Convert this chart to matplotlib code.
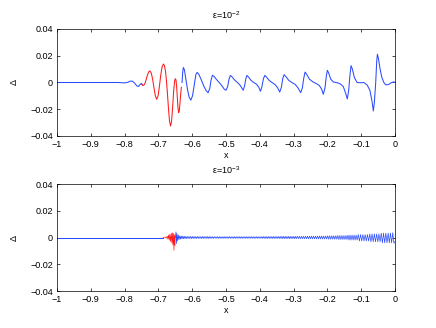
import matplotlib
matplotlib.use("Agg")
import matplotlib.pyplot as plt

plt.rcParams['font.family'] = ['Liberation Sans', 'DejaVu Sans']
plt.rcParams['mathtext.fontset'] = 'custom'
plt.rcParams['mathtext.rm'] = 'Liberation Sans'
plt.rcParams['mathtext.it'] = 'Liberation Sans:italic'

# ---- data ----
xticks = [-1, -0.9, -0.8, -0.7, -0.6, -0.5, -0.4, -0.3, -0.2, -0.1, 0]
xtick_labels = ['\u22121', '\u22120.9', '\u22120.8', '\u22120.7', '\u22120.6', '\u22120.5',
                '\u22120.4', '\u22120.3', '\u22120.2', '\u22120.1', '0']
yticks = [-0.04, -0.02, 0, 0.02, 0.04]
ytick_labels = ['\u22120.04', '\u22120.02', '0', '0.02', '0.04']
titles = ['\u03b5=10$^{-2}$', '\u03b5=10$^{-3}$']

# eps = 1e-2
top_blue1_x = [-1.0, -0.90, -0.85, -0.82, -0.80, -0.790, -0.783, -0.777, -0.770, -0.764,
               -0.759, -0.755, -0.751, -0.748]
top_blue1_y = [0.0, 0.0, 0.0, 0.0, -0.0003, 0.0002, 0.0010, 0.0010, -0.0005, -0.0025,
               -0.0030, -0.0018, -0.0008, -0.0014]

top_red_x = [-0.750, -0.746, -0.741, -0.737, -0.733, -0.729, -0.725, -0.721, -0.717, -0.713,
             -0.709, -0.705, -0.701, -0.697, -0.693, -0.689, -0.685, -0.682, -0.679, -0.676,
             -0.673, -0.670, -0.667, -0.664, -0.661, -0.658, -0.655, -0.652, -0.650, -0.648,
             -0.646, -0.644, -0.642, -0.640, -0.638, -0.636, -0.634, -0.632]
top_red_y = [-0.0010, -0.0024, -0.0015, 0.0015, 0.0050, 0.0078, 0.0087, 0.0070, 0.0025, -0.0040,
             -0.0100, -0.0126, -0.0100, -0.0030, 0.0055, 0.0118, 0.0138, 0.0125, 0.0085, 0.0010,
             -0.0090, -0.0200, -0.0290, -0.0325, -0.0290, -0.0190, -0.0070, 0.0010, 0.0028, 0.0020,
             -0.0030, -0.0110, -0.0190, -0.0226, -0.0210, -0.0150, -0.0085, -0.0036]

top_blue2_x = [-0.630, -0.628, -0.626, -0.623, -0.619, -0.614, -0.609, -0.604, -0.599, -0.594,
               -0.589, -0.585, -0.580, -0.573, -0.566, -0.559, -0.553, -0.548, -0.544, -0.540,
               -0.535, -0.528, -0.520, -0.512, -0.505, -0.500, -0.495, -0.491, -0.487, -0.482,
               -0.475, -0.467, -0.459, -0.453, -0.449, -0.445, -0.441, -0.438, -0.433, -0.426,
               -0.418, -0.410, -0.403, -0.398, -0.394, -0.389, -0.385, -0.380, -0.372, -0.364,
               -0.355, -0.347, -0.341, -0.336, -0.332, -0.328, -0.322, -0.314, -0.305, -0.295,
               -0.287, -0.279, -0.274, -0.270, -0.266, -0.261, -0.253, -0.243, -0.233, -0.224,
               -0.217, -0.212, -0.207, -0.203, -0.200, -0.196, -0.190, -0.182, -0.172, -0.162,
               -0.153, -0.146, -0.141, -0.137, -0.133, -0.130, -0.126, -0.120, -0.112, -0.102,
               -0.092, -0.082, -0.074, -0.068, -0.064, -0.061, -0.057, -0.054, -0.052, -0.049,
               -0.044, -0.039, -0.033, -0.027, -0.019, -0.011, -0.005, 0.0]
top_blue2_y = [0.0000, 0.0080, 0.0112, 0.0095, 0.0030, -0.0050, -0.0110, -0.0132, -0.0100, -0.0020,
               0.0060, 0.0076, 0.0060, 0.0020, -0.0025, -0.0060, -0.0076, -0.0045, 0.0020, 0.0054,
               0.0045, 0.0022, 0.0000, -0.0025, -0.0050, -0.0058, -0.0030, 0.0025, 0.0053, 0.0042,
               0.0020, 0.0002, -0.0018, -0.0042, -0.0058, -0.0025, 0.0030, 0.0053, 0.0040, 0.0016,
               0.0000, -0.0012, -0.0035, -0.0066, -0.0035, 0.0030, 0.0053, 0.0040, 0.0015, 0.0000,
               -0.0015, -0.0040, -0.0072, -0.0035, 0.0030, 0.0058, 0.0042, 0.0015, 0.0000, -0.0015,
               -0.0040, -0.0076, -0.0040, 0.0030, 0.0078, 0.0060, 0.0025, 0.0005, -0.0008, -0.0022,
               -0.0050, -0.0088, -0.0040, 0.0050, 0.0091, 0.0070, 0.0025, 0.0003, -0.0001, -0.0010,
               -0.0030, -0.0080, -0.0123, -0.0060, 0.0060, 0.0126, 0.0100, 0.0036, 0.0000, -0.0002,
               0.0000, -0.0020, -0.0060, -0.0140, -0.0213, -0.0150, 0.0000, 0.0160, 0.0211, 0.0180,
               0.0100, 0.0040, 0.0000, -0.0018, -0.0015, -0.0002, 0.0004, 0.0002]

# eps = 1e-3
bot_blue1_x = [-1.0, -0.686]
bot_blue1_y = [0.0, 0.0]

bot_red_x = [-0.686, -0.680, -0.677, -0.674, -0.672, -0.670, -0.668, -0.666, -0.664, -0.662,
             -0.660, -0.6585, -0.657, -0.6555, -0.654, -0.6525, -0.651, -0.650]
bot_red_y = [0.0, 0.0003, -0.0005, 0.0010, -0.0012, 0.0018, -0.0020, 0.0025, -0.0030, 0.0032,
             -0.0040, 0.0035, -0.0055, 0.0030, -0.0095, 0.0020, -0.0060, 0.0010]

bot_blue2_x = [-0.6495, -0.6480, -0.6465, -0.6450, -0.6430, -0.6410, -0.6390, -0.6368, -0.6346, -0.6324,
               -0.6302, -0.6280, -0.6258, -0.6236, -0.6214, -0.6192, -0.6170,
               -0.6145, -0.6120, -0.6095, -0.6070, -0.6045, -0.6020, -0.5995, -0.5970, -0.5945, -0.5920,
               -0.5895, -0.5870, -0.5845, -0.5820, -0.5795, -0.5770, -0.5745, -0.5720, -0.5695, -0.5670,
               -0.5645, -0.5620, -0.5595, -0.5570, -0.5545, -0.5520, -0.5495, -0.5470, -0.5445, -0.5420,
               -0.5395, -0.5370, -0.5345, -0.5320, -0.5295, -0.5270, -0.5245, -0.5220, -0.5195, -0.5170,
               -0.5145, -0.5120, -0.5095, -0.5070, -0.5045, -0.5020, -0.4995, -0.4970, -0.4945, -0.4920,
               -0.4895, -0.4870, -0.4845, -0.4820, -0.4795, -0.4770, -0.4745, -0.4720, -0.4695, -0.4670,
               -0.4645, -0.4620, -0.4595, -0.4570, -0.4545, -0.4520, -0.4495, -0.4470, -0.4445, -0.4420,
               -0.4395, -0.4370, -0.4345, -0.4320, -0.4295, -0.4270, -0.4245, -0.4220, -0.4195, -0.4170,
               -0.4145, -0.4120, -0.4095, -0.4070, -0.4045, -0.4020, -0.3995, -0.3970, -0.3945, -0.3920,
               -0.3895, -0.3870, -0.3845, -0.3820, -0.3795, -0.3770, -0.3745, -0.3720, -0.3695, -0.3670,
               -0.3645, -0.3620, -0.3595, -0.3570, -0.3545, -0.3520, -0.3495, -0.3470, -0.3445, -0.3420,
               -0.3395, -0.3370, -0.3345, -0.3320, -0.3295, -0.3270, -0.3245, -0.3220, -0.3195, -0.3170,
               -0.3145, -0.3120, -0.3095, -0.3070, -0.3045, -0.3020, -0.2995, -0.2970, -0.2945, -0.2920,
               -0.2890, -0.2860, -0.2830, -0.2800, -0.2770, -0.2740, -0.2710, -0.2680, -0.2650, -0.2620,
               -0.2590, -0.2560, -0.2530, -0.2500, -0.2470, -0.2440, -0.2410, -0.2380, -0.2350, -0.2320,
               -0.2290, -0.2260, -0.2230, -0.2200, -0.2170, -0.2140, -0.2110, -0.2080, -0.2050, -0.2020,
               -0.1990, -0.1960, -0.1930, -0.1900, -0.1870, -0.1840, -0.1810, -0.1780, -0.1750, -0.1720,
               -0.1690, -0.1660, -0.1630, -0.1600, -0.1570, -0.1540, -0.1510, -0.1480, -0.1450, -0.1420,
               -0.1390, -0.1360, -0.1330, -0.1300, -0.1270, -0.1240, -0.1210, -0.1180, -0.1150, -0.1120,
               -0.1086, -0.1052, -0.1018, -0.0984, -0.0950, -0.0916, -0.0882, -0.0848, -0.0814, -0.0780,
               -0.0746, -0.0712, -0.0678, -0.0644, -0.0610, -0.0576, -0.0542, -0.0508, -0.0474, -0.0440,
               -0.0406, -0.0372, -0.0338, -0.0304, -0.0270, -0.0236, -0.0202, -0.0168, -0.0134, -0.0100,
               -0.0066, -0.0032, 0.0]
bot_blue2_y = [0.0000, 0.0042, -0.0045, 0.0030, -0.0025, 0.0018, -0.0016, 0.0013, -0.0012, 0.0011,
               -0.0010, 0.0010, -0.0009, 0.0009, -0.0009, 0.0008, -0.0008,
               0.0008, -0.0008, 0.0008, -0.0008, 0.0008, -0.0008, 0.0008, -0.0008, 0.0008, -0.0008,
               0.0007, -0.0007, 0.0007, -0.0007, 0.0007, -0.0007, 0.0007, -0.0007, 0.0007, -0.0007,
               0.0007, -0.0007, 0.0007, -0.0007, 0.0007, -0.0007, 0.0007, -0.0007, 0.0007, -0.0007,
               0.0006, -0.0006, 0.0006, -0.0006, 0.0006, -0.0006, 0.0006, -0.0006, 0.0006, -0.0006,
               0.0006, -0.0006, 0.0006, -0.0006, 0.0006, -0.0006, 0.0006, -0.0006, 0.0006, -0.0006,
               0.0006, -0.0006, 0.0006, -0.0006, 0.0006, -0.0006, 0.0006, -0.0006, 0.0006, -0.0006,
               0.0006, -0.0006, 0.0006, -0.0006, 0.0006, -0.0006, 0.0006, -0.0006, 0.0006, -0.0006,
               0.0006, -0.0006, 0.0006, -0.0006, 0.0006, -0.0006, 0.0006, -0.0006, 0.0006, -0.0006,
               0.0006, -0.0006, 0.0006, -0.0006, 0.0006, -0.0006, 0.0006, -0.0006, 0.0006, -0.0006,
               0.0007, -0.0007, 0.0007, -0.0007, 0.0007, -0.0007, 0.0007, -0.0007, 0.0007, -0.0007,
               0.0007, -0.0007, 0.0007, -0.0007, 0.0007, -0.0007, 0.0007, -0.0007, 0.0007, -0.0007,
               0.0008, -0.0008, 0.0008, -0.0008, 0.0008, -0.0008, 0.0008, -0.0008, 0.0008, -0.0008,
               0.0008, -0.0008, 0.0008, -0.0008, 0.0008, -0.0008, 0.0008, -0.0008, 0.0008, -0.0008,
               0.0009, -0.0009, 0.0009, -0.0009, 0.0009, -0.0009, 0.0009, -0.0009, 0.0009, -0.0009,
               0.0010, -0.0010, 0.0010, -0.0010, 0.0010, -0.0010, 0.0010, -0.0010, 0.0010, -0.0010,
               0.0011, -0.0011, 0.0011, -0.0011, 0.0011, -0.0011, 0.0011, -0.0011, 0.0011, -0.0011,
               0.0013, -0.0013, 0.0013, -0.0013, 0.0013, -0.0013, 0.0013, -0.0013, 0.0013, -0.0013,
               0.0015, -0.0015, 0.0015, -0.0015, 0.0015, -0.0015, 0.0015, -0.0015, 0.0015, -0.0015,
               0.0018, -0.0019, 0.0018, -0.0019, 0.0018, -0.0019, 0.0018, -0.0019, 0.0018, -0.0019,
               0.0022, -0.0026, 0.0022, -0.0026, 0.0022, -0.0026, 0.0022, -0.0026, 0.0022, -0.0026,
               0.0027, -0.0032, 0.0027, -0.0032, 0.0027, -0.0032, 0.0027, -0.0032, 0.0027, -0.0032,
               0.0033, -0.0040, 0.0033, -0.0040, 0.0033, -0.0040, 0.0033, -0.0040, 0.0033, -0.0040,
               0.0036, -0.0042, -0.0030]

BLUE = '#2a4bff'
RED = '#ff1a1a'
LW = 0.75

fig = plt.figure(figsize=(4.36, 3.28), dpi=100)
ax_top = fig.add_axes([0.1307, 0.5854, 0.7752, 0.3262])
ax_bot = fig.add_axes([0.1307, 0.1128, 0.7752, 0.3262])

ax_top.plot(top_blue1_x, top_blue1_y, color=BLUE, lw=LW)
ax_top.plot(top_blue2_x, top_blue2_y, color=BLUE, lw=LW)
ax_top.plot(top_red_x, top_red_y, color=RED, lw=LW)

ax_bot.plot(bot_blue1_x, bot_blue1_y, color=BLUE, lw=LW)
ax_bot.plot(bot_blue2_x, bot_blue2_y, color=BLUE, lw=0.5)
ax_bot.plot(bot_red_x, bot_red_y, color=RED, lw=0.5)

for ax, title in zip([ax_top, ax_bot], titles):
    ax.set_xlim(-1, 0)
    ax.set_ylim(-0.04, 0.04)
    ax.set_xticks(xticks)
    ax.set_xticklabels(xtick_labels)
    ax.set_yticks(yticks)
    ax.set_yticklabels(ytick_labels)
    ax.tick_params(direction='in', length=2.4, width=0.5, labelsize=6.5,
                   top=True, right=True, pad=3)
    for s in ax.spines.values():
        s.set_linewidth(0.5)
    ax.set_title(title, fontsize=6.5, pad=7)
    ax.set_xlabel('x', fontsize=6.5, labelpad=1)
    ax.set_ylabel('\u0394', fontsize=6.5, labelpad=8)

fig.savefig('out.png', dpi=100)
